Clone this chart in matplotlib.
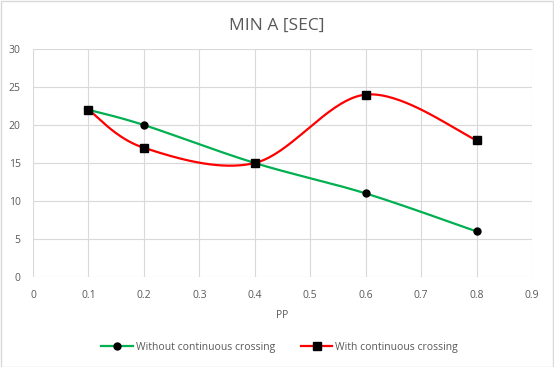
import matplotlib
matplotlib.use("Agg")
import matplotlib.pyplot as plt
from matplotlib.patches import Rectangle
import numpy as np

# data
pp = [0.1, 0.2, 0.4, 0.6, 0.8]
without_crossing = [22, 20, 15, 11, 6]
with_crossing = [22, 17, 15, 24, 18]

x_ticks = [0, 0.1, 0.2, 0.3, 0.4, 0.5, 0.6, 0.7, 0.8, 0.9]
y_ticks = [0, 5, 10, 15, 20, 25, 30]

GREY = "#595959"
plt.rcParams['font.family'] = ['Open Sans', 'DejaVu Sans']


def smooth(xs, ys, n=40):
    # excel-like smoothed line: bezier segments with catmull-rom handles
    p = np.column_stack([xs, ys]).astype(float)
    pts = np.vstack([p[0], p, p[-1]])
    out = []
    t = np.linspace(0, 1, n)[:, None]
    for i in range(1, len(pts) - 2):
        p0, p1 = pts[i], pts[i + 1]
        c1 = p0 + (pts[i + 1] - pts[i - 1]) / 6
        c2 = p1 - (pts[i + 2] - pts[i]) / 6
        seg = ((1 - t) ** 3) * p0 + 3 * ((1 - t) ** 2) * t * c1 + 3 * (1 - t) * t ** 2 * c2 + t ** 3 * p1
        out.append(seg)
    s = np.vstack(out)
    return s[:, 0], s[:, 1]


fig = plt.figure(figsize=(5.54, 3.67), dpi=100)
fig.patches.append(Rectangle((0.001, 0.001), 0.997, 0.996, transform=fig.transFigure,
                             fill=False, edgecolor="#D9D9D9", linewidth=1))
ax = fig.add_axes([0.0596, 0.2452, 0.9007, 0.6213])

gx, gy = smooth(pp, without_crossing)
ax.plot(gx, gy, color="#00B050", lw=1.6, zorder=3)
ax.plot(pp, without_crossing, 'o', color="black", ms=5, zorder=4)

rx, ry = smooth(pp, with_crossing)
ax.plot(rx, ry, color="#FF0000", lw=1.6, zorder=5)
ax.plot(pp, with_crossing, 's', color="black", ms=5.5, zorder=6)

# legend handles
ax.plot([], [], color="#00B050", lw=1.6, marker='o', mfc='black', mec='black', ms=5,
        label="Without continuous crossing")
ax.plot([], [], color="#FF0000", lw=1.6, marker='s', mfc='black', mec='black', ms=5.5,
        label="With continuous crossing")

ax.set_xlim(0, 0.9)
ax.set_ylim(0, 30)
ax.set_xticks(x_ticks)
ax.set_xticklabels([f"{v:g}" for v in x_ticks])
ax.set_yticks(y_ticks)
ax.grid(True, color="#D9D9D9", lw=0.8)
ax.set_axisbelow(True)
for s in ax.spines.values():
    s.set_visible(False)
ax.tick_params(length=0, labelsize=7.5, colors=GREY, pad=9)
ax.set_xlabel("PP", fontsize=7.5, color=GREY, labelpad=7)

fig.text(0.5, 0.93, "MIN A [SEC]", ha='center', va='center', fontsize=12.5, color=GREY)

h, l = ax.get_legend_handles_labels()
fig.legend(h[-2:], l[-2:], loc='center', bbox_to_anchor=(0.505, 0.053), ncol=2, frameon=False,
           fontsize=7.5, labelcolor=GREY, handlelength=3, handletextpad=0.3, columnspacing=2.5)

fig.savefig("out.png", dpi=100)
